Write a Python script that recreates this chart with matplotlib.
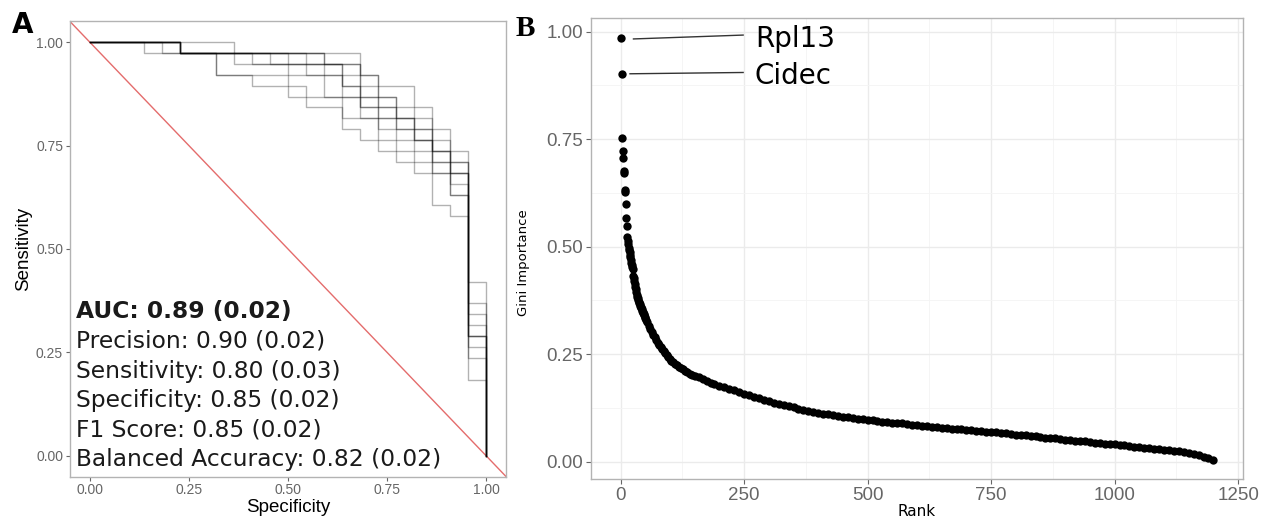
import numpy as np
import matplotlib
matplotlib.use('Agg')
import matplotlib.pyplot as plt

# ---- panel A: ROC curves of the CV folds (drop positions in counts) ----
n_neg, n_pos = 22, 38
fold_spec = [
    [0, 8, 15, 16, 18, 19, 20, 21, 22],
    [0, 4, 13, 14, 16, 17, 19, 20, 21, 22],
    [0, 5, 12, 14, 15, 16, 18, 19, 20, 21, 22],
    [0, 5, 9, 11, 13, 15, 16, 17, 19, 20, 21, 22],
    [0, 5, 13, 15, 16, 17, 18, 19, 20, 21, 22],
    [0, 5, 11, 14, 15, 17, 18, 19, 20, 21, 22],
    [0, 5, 7, 11, 12, 14, 16, 17, 18, 20, 21, 22],
    [0, 3, 7, 9, 11, 12, 14, 15, 16, 17, 18, 19, 20, 21, 22],
    [0, 5, 10, 13, 14, 15, 17, 18, 19, 20, 21, 22],
    [0, 5, 15, 16, 17, 19, 20, 21, 22],
]
fold_sens = [
    [38, 36, 35, 34, 32, 30, 28, 16, 0],
    [38, 37, 36, 35, 33, 31, 29, 27, 14, 0],
    [38, 37, 35, 33, 32, 31, 29, 27, 26, 13, 0],
    [38, 37, 36, 35, 33, 31, 30, 29, 26, 25, 11, 0],
    [38, 37, 36, 34, 32, 30, 28, 26, 24, 11, 0],
    [38, 37, 36, 34, 33, 32, 30, 28, 27, 10, 0],
    [38, 37, 35, 34, 33, 31, 29, 28, 27, 24, 9, 0],
    [38, 37, 35, 34, 33, 32, 30, 29, 28, 27, 26, 23, 22, 7, 0],
    [38, 37, 36, 35, 34, 32, 31, 29, 28, 26, 12, 0],
    [38, 37, 33, 31, 30, 28, 26, 11, 0],
]
metric_names = ['AUC', 'Precision', 'Sensitivity', 'Specificity', 'F1 Score', 'Balanced Accuracy']
metric_means = [0.89, 0.90, 0.80, 0.85, 0.85, 0.82]
metric_sds = [0.02, 0.02, 0.03, 0.02, 0.02, 0.02]

# ---- panel B: Gini importance by rank ----
gini_rank = [1, 2, 3, 4, 5, 6, 7, 8, 9, 10, 11, 12, 13, 14, 15, 16, 17, 18, 19, 20,
             21, 22, 23, 24, 25, 26, 27, 28, 29, 30, 31, 32, 33, 34, 35, 36, 37, 38, 39, 40,
             41, 42, 43, 44, 45, 46, 47, 48, 49, 50, 51, 54, 57, 60, 63, 66, 69, 72, 75, 78,
             81, 84, 87, 90, 93, 96, 99, 102, 106, 110, 114, 118, 122, 126, 130, 135, 140, 145, 150, 158,
             166, 174, 182, 190, 200, 210, 220, 230, 240, 250, 260, 270, 280, 290, 300, 310, 320, 330, 340, 350,
             360, 370, 380, 390, 400, 410, 420, 430, 440, 450, 460, 470, 480, 490, 500, 510, 520, 530, 540, 550,
             560, 570, 580, 590, 600, 610, 620, 630, 640, 650, 660, 670, 680, 690, 700, 710, 720, 730, 740, 750,
             760, 770, 780, 790, 800, 810, 820, 830, 840, 850, 860, 870, 880, 890, 900, 910, 920, 930, 940, 950,
             960, 970, 980, 990, 1000, 1010, 1020, 1030, 1040, 1050, 1060, 1070, 1080, 1090, 1100, 1110, 1120, 1130, 1140, 1150,
             1160, 1170, 1180, 1190, 1200]
gini_value = [0.985, 0.902, 0.752, 0.722, 0.707, 0.677, 0.671, 0.632, 0.626, 0.599, 0.566, 0.548, 0.523, 0.514, 0.505, 0.498, 0.492, 0.487, 0.481, 0.475,
              0.469, 0.463, 0.458, 0.452, 0.447, 0.432, 0.427, 0.421, 0.414, 0.407, 0.401, 0.395, 0.388, 0.384, 0.380, 0.376, 0.372, 0.369, 0.366, 0.363,
              0.360, 0.357, 0.354, 0.351, 0.349, 0.346, 0.343, 0.340, 0.337, 0.334, 0.330, 0.324, 0.316, 0.309, 0.302, 0.295, 0.289, 0.283, 0.277, 0.271,
              0.266, 0.262, 0.258, 0.253, 0.248, 0.243, 0.238, 0.235, 0.231, 0.227, 0.224, 0.221, 0.218, 0.215, 0.212, 0.208, 0.204, 0.201, 0.199, 0.196,
              0.192, 0.188, 0.184, 0.180, 0.176, 0.173, 0.170, 0.166, 0.162, 0.158, 0.154, 0.151, 0.147, 0.144, 0.140, 0.137, 0.134, 0.132, 0.129, 0.126,
              0.123, 0.120, 0.118, 0.116, 0.114, 0.112, 0.110, 0.108, 0.107, 0.105, 0.103, 0.102, 0.100, 0.099, 0.097, 0.096, 0.095, 0.093, 0.092, 0.091,
              0.090, 0.089, 0.087, 0.086, 0.085, 0.084, 0.083, 0.081, 0.080, 0.079, 0.078, 0.077, 0.076, 0.075, 0.074, 0.073, 0.072, 0.071, 0.070, 0.069,
              0.068, 0.067, 0.066, 0.065, 0.063, 0.062, 0.061, 0.060, 0.059, 0.058, 0.056, 0.055, 0.054, 0.052, 0.051, 0.050, 0.049, 0.048, 0.047, 0.045,
              0.044, 0.043, 0.042, 0.041, 0.040, 0.039, 0.038, 0.036, 0.035, 0.034, 0.032, 0.031, 0.030, 0.029, 0.028, 0.026, 0.025, 0.024, 0.022, 0.020,
              0.018, 0.016, 0.012, 0.008, 0.003]
label_genes = ['Rpl13', 'Cidec']

W, H = 1261, 521
fig = plt.figure(figsize=(W / 100, H / 100), dpi=100)
border = '#b3b3b3'
tickc = '#666666'

# ================= A =================
axA = fig.add_axes([70 / W, (H - 476.5) / H, 436 / W, 455 / H])
axA.set_xlim(-0.05, 1.05); axA.set_ylim(-0.05, 1.05)
axA.plot([-0.05, 1.05], [1.05, -0.05], color='#e46c6c', lw=1.0, zorder=1)
for xs, ys in zip(fold_spec, fold_sens):
    axA.plot(np.array(xs) / n_neg, np.array(ys) / n_pos, drawstyle='steps-post',
             color='black', alpha=0.3, lw=1.0, zorder=2)
ticks = [0, 0.25, 0.5, 0.75, 1.0]
axA.set_xticks(ticks); axA.set_yticks(ticks)
axA.set_xticklabels([f'{t:.2f}' for t in ticks]); axA.set_yticklabels([f'{t:.2f}' for t in ticks])
axA.tick_params(direction='out', length=3, width=0.8, color=tickc, labelcolor=tickc, labelsize=10,
                pad=2)
for lab in axA.get_xticklabels() + axA.get_yticklabels():
    lab.set_family('Liberation Sans')
for s in axA.spines.values():
    s.set_color(border); s.set_linewidth(1.0)
axA.set_xlabel('Specificity', family='Liberation Sans', fontsize=13.5, labelpad=1)
axA.set_ylabel('Sensitivity', family='Liberation Sans', fontsize=13.5, labelpad=3)
y0, dy = 0.348, -0.0715
for i, (nm, m, sd) in enumerate(zip(metric_names, metric_means, metric_sds)):
    axA.text(-0.035, y0 + i * dy, f'{nm}: {m:.2f} ({sd:.2f})', fontsize=16.8,
             family='DejaVu Sans', fontweight='bold' if i == 0 else 'normal',
             ha='left', va='center', color='#1a1a1a', zorder=3)

# ================= B =================
axB = fig.add_axes([591 / W, (H - 479.3) / H, 652 / W, 461 / H])
axB.set_xlim(-59.95, 1259.95); axB.set_ylim(-0.041, 1.031)
axB.set_xticks([0, 250, 500, 750, 1000, 1250])
axB.set_xticks([125, 375, 625, 875, 1125], minor=True)
axB.set_yticks([0, 0.25, 0.5, 0.75, 1.0])
axB.set_yticks([0.125, 0.375, 0.625, 0.875], minor=True)
axB.set_yticklabels(['0.00', '0.25', '0.50', '0.75', '1.00'])
axB.grid(which='major', color='#ebebeb', lw=1.0)
axB.grid(which='minor', color='#f4f4f4', lw=0.6)
axB.set_axisbelow(True)
axB.tick_params(which='major', direction='out', length=3.5, width=0.8, color=tickc, labelcolor=tickc,
                labelsize=13.5, pad=2)
axB.tick_params(which='minor', length=0)
for lab in axB.get_xticklabels() + axB.get_yticklabels():
    lab.set_family('Liberation Sans')
for s in axB.spines.values():
    s.set_color(border); s.set_linewidth(1.0)
axB.scatter(gini_rank, gini_value, s=36, color='black', lw=0, zorder=3)
axB.set_xlabel('Rank', family='DejaVu Sans', fontsize=11, labelpad=0)
axB.set_ylabel('Gini Importance', family='DejaVu Sans', fontsize=9.5)
axB.yaxis.set_label_coords(-0.094, 0.47)

# repel-style labels for top two genes
seg_start = [(26, 0.983), (19, 0.902)]
seg_end = [(248, 0.992), (248, 0.905)]
txt_y = [0.982, 0.897]
for g, (x1, y1), (x2, y2), ty in zip(label_genes, seg_start, seg_end, txt_y):
    axB.plot([x1, x2], [y1, y2], color='#333333', lw=1.0, zorder=2)
    axB.text(272, ty, g, fontsize=20, family='DejaVu Sans', ha='left', va='center', color='black')

fig.text(12 / W, 1 - 33 / H, 'A', fontsize=20, fontweight='bold', family='DejaVu Sans', ha='left', va='baseline')
fig.text(516 / W, 1 - 36 / H, 'B', fontsize=21, fontweight='bold', family='Liberation Serif', ha='left', va='baseline')

fig.savefig('out.png', dpi=100)
